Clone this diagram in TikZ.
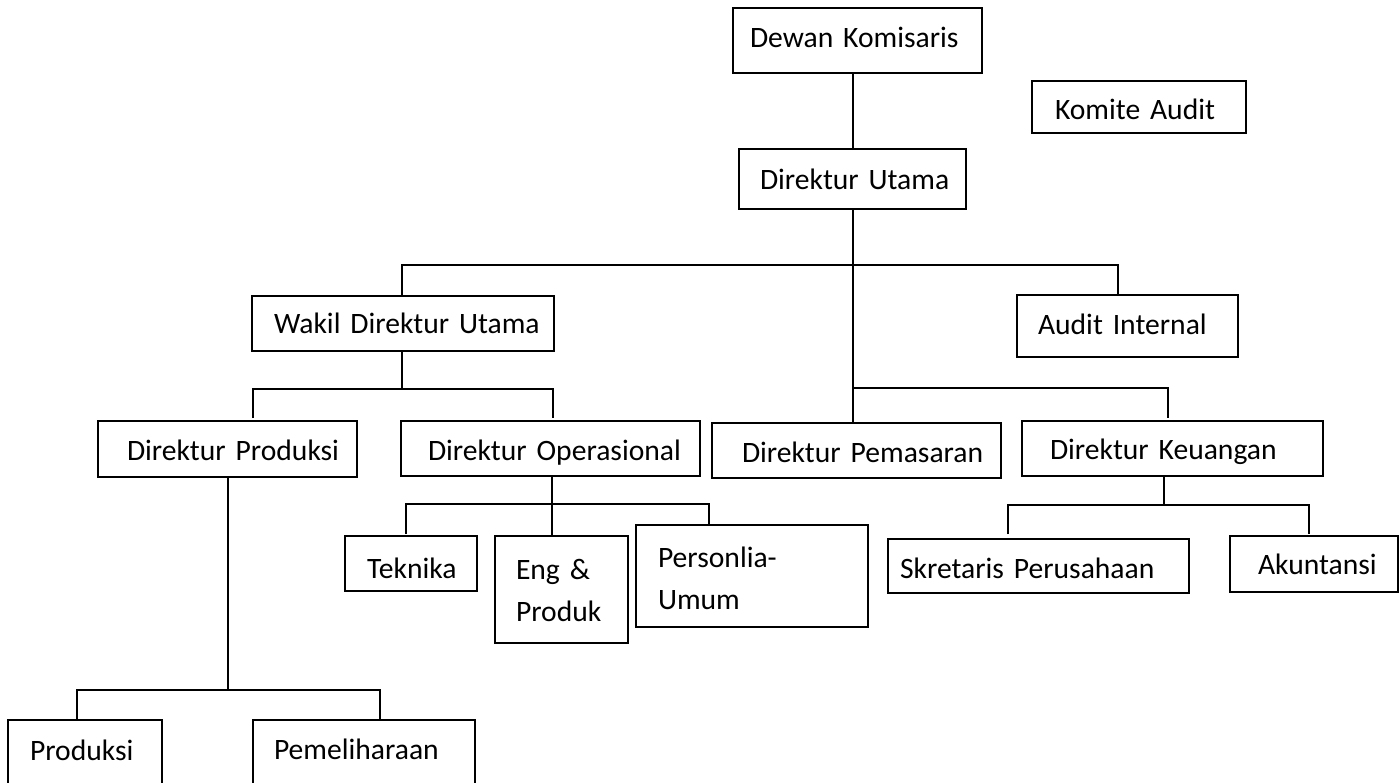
\documentclass[tikz,border=0pt]{standalone}
\usepackage{fontspec}
\setmainfont{Carlito}
\newcommand\ind{\hspace*{\bP pt}}
% name, left, top, right, bottom, text-left, baseline, depth, text
\newcommand\orgbox[9]{%
  \pgfmathsetmacro\bW{#4-#2}%
  \pgfmathsetmacro\bH{#5-#3}%
  \pgfmathsetmacro\bP{#6-#2}%
  \pgfmathsetmacro\bOff{#7-(#3+#5)/2}%
  \pgfmathsetmacro\bTH{2*\bOff+#8}%
  \node[box, minimum width=\bW pt, minimum height=\bH pt, text width=\bW pt,
        text height=\bTH pt, text depth=#8pt] (#1) at (#2,#3) {\ind #9};%
}
\begin{document}
\begin{tikzpicture}[x=1pt,y=-1pt,
  box/.style={draw, line width=2.1pt, anchor=north west, inner xsep=0pt, inner ysep=0pt,
              outer sep=0pt, align=left, font=\fontsize{29.6}{42}\selectfont},
  conn/.style={line width=2pt}]
\path[use as bounding box] (0,0) rectangle (1399,782);
\clip (0,0) rectangle (1399,782);

\orgbox{dk}{733}{8}{982}{73}{750}{47}{10}{Dewan Komisaris}
\orgbox{ka}{1032}{81}{1246}{133}{1055}{119}{10}{Komite Audit}
\orgbox{du}{739}{149}{966}{209}{760}{189}{10}{Direktur Utama}
\orgbox{wk}{252}{296}{554}{351}{274}{333}{10}{Wakil Direktur Utama}
\orgbox{ai}{1017}{295}{1238}{357}{1038}{334}{10}{Audit Internal}
\orgbox{dp}{98}{421}{357}{477}{127}{460}{10}{Direktur Produksi}
\orgbox{do}{401}{421}{700}{476}{428}{460}{10}{Direktur Operasional}
\orgbox{pm}{712}{423}{1001}{478}{742}{462}{10}{Direktur Pemasaran}
\orgbox{kg}{1022}{421}{1323}{476}{1050}{459}{10}{Direktur Keuangan}
\orgbox{tk}{345}{536}{477}{591}{367}{578}{10}{Teknika}
\orgbox{ep}{495}{536}{628}{643}{516}{579}{30}{Eng \&\\\ind Produk}
\orgbox{pu}{636}{525}{868}{627}{658}{567}{30}{Personlia-\\\ind Umum}
\orgbox{sp}{888}{539}{1189}{593}{900}{578}{10}{Skretaris Perusahaan}
\orgbox{ak}{1230}{536}{1398}{592}{1258}{574}{10}{Akuntansi}
\orgbox{pr}{8}{720}{162}{800}{30}{760}{10}{Produksi}
\orgbox{ph}{253}{720}{475}{800}{274}{759}{10}{Pemeliharaan}

% main trunk
\draw[conn] (du.north) -- (du.north |- dk.south);
\draw[conn] (du.south) -- (du.south |- pm.north);

% top bar
\coordinate (b1L) at (402,265);
\coordinate (b1R) at (1118,265);
\draw[conn] (b1L |- wk.north) -- (b1L) -- (b1R) -- (b1R |- ai.north);

% wakil
\coordinate (b2M) at (402,389);
\coordinate (b2L) at (253,389);
\coordinate (b2R) at (553,389);
\draw[conn] (b2M |- wk.south) -- (b2M);
\draw[conn, shorten <=3pt, shorten >=3pt] (b2L |- dp.north) -- (b2L) -- (b2R) -- (b2R |- do.north);

% direktur produksi
\coordinate (b3M) at (228,690);
\coordinate (b3L) at (77,690);
\coordinate (b3R) at (380,690);
\draw[conn] (b3M |- dp.south) -- (b3M);
\draw[conn] (b3L |- pr.north) -- (b3L) -- (b3R) -- (b3R |- ph.north);

% direktur operasional
\coordinate (b5M) at (552,504);
\coordinate (b5L) at (406,504);
\coordinate (b5R) at (709,504);
\draw[conn] (b5M |- do.south) -- (b5M |- ep.north);
\draw[conn, shorten <=2pt, shorten >=1pt] (b5L |- tk.north) -- (b5L) -- (b5R) -- (b5R |- pu.north);

% pemasaran / keuangan
\coordinate (b4L) at (852,388);
\coordinate (b4R) at (1168,388);
\draw[conn, shorten >=3pt] (b4L) -- (b4R) -- (b4R |- kg.north);

% direktur keuangan
\coordinate (b6M) at (1164,505);
\coordinate (b6L) at (1008,505);
\coordinate (b6R) at (1309,505);
\draw[conn] (b6M |- kg.south) -- (b6M);
\draw[conn, shorten <=5pt, shorten >=2pt] (b6L |- sp.north) -- (b6L) -- (b6R) -- (b6R |- ak.north);
\end{tikzpicture}
\end{document}
